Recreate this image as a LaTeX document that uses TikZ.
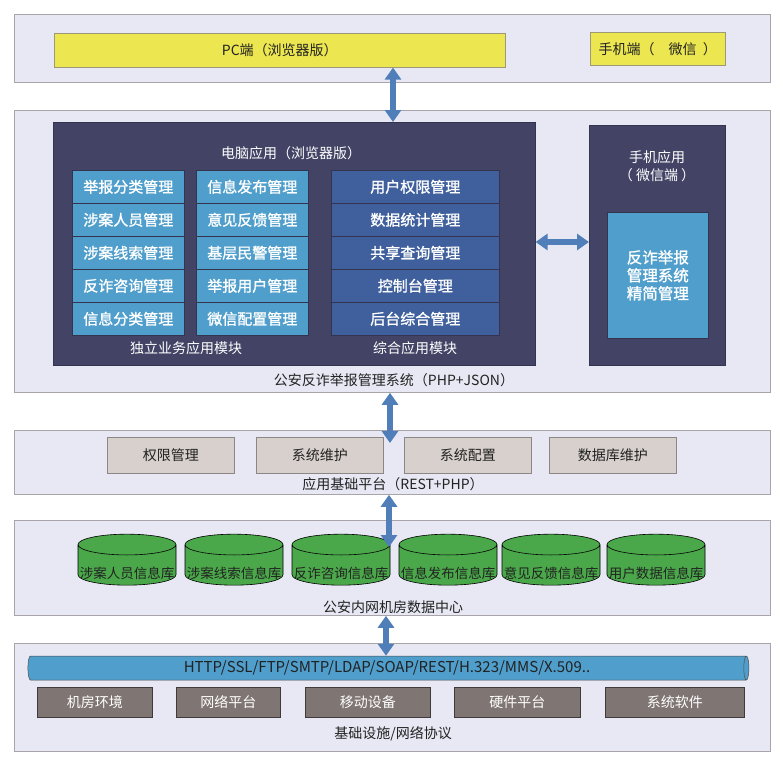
\documentclass[tikz,border=0pt]{standalone}
\usepackage{fontspec}
\setmainfont{Noto Sans CJK SC}
\newfontfamily\heavycjk[FakeBold=1.2]{Noto Sans CJK SC}
\usetikzlibrary{arrows.meta,shapes.geometric,positioning}

\definecolor{layerbg}{HTML}{E7E8F3}
\definecolor{layerln}{HTML}{A8A4A8}
\definecolor{pcyellow}{HTML}{ECE650}
\definecolor{yellowln}{HTML}{9C9878}
\definecolor{navy}{HTML}{434366}
\definecolor{navyln}{HTML}{34344F}
\definecolor{skyblue}{HTML}{4F9ECB}
\definecolor{deepblue}{HTML}{3F609C}
\definecolor{stone}{HTML}{D7D0CD}
\definecolor{stoneln}{HTML}{8C8684}
\definecolor{slate}{HTML}{7F7573}
\definecolor{slateln}{HTML}{403A3A}
\definecolor{dbgreen}{HTML}{4AA84A}
\definecolor{flowblue}{HTML}{4F7EB9}
\definecolor{ink}{HTML}{222222}

\begin{document}
\begin{tikzpicture}[
    x=1pt, y=-1pt,
    font=\fontsize{14}{16}\selectfont,
    layer/.style={draw=layerln, fill=layerbg, line width=0.8pt, anchor=north west, inner sep=0pt, minimum width=756pt},
    endbox/.style={draw=yellowln, fill=pcyellow, line width=0.6pt, anchor=north west, inner sep=0pt, minimum height=34pt, text=ink},
    panel/.style={draw=navyln, fill=navy, line width=0.6pt, anchor=north west, inner sep=0pt},
    paneltext/.style={text=white, inner sep=1pt, align=center, font=\fontsize{14}{18}\selectfont},
    cell/.style={draw=navyln, line width=0.6pt, anchor=north west, inner sep=0pt, minimum height=33pt, text=white, font=\heavycjk\fontsize{15}{17}\selectfont},
    core/.style={draw=navyln, fill=skyblue, line width=0.6pt, anchor=north west, inner sep=0pt, minimum width=101pt, minimum height=126pt, text=white, align=center, font=\heavycjk\fontsize{15.5}{18}\selectfont},
    title/.style={text=ink, inner sep=1pt},
    tool/.style={draw=stoneln, fill=stone, line width=0.6pt, anchor=north west, inner sep=0pt, minimum width=127pt, minimum height=36pt, text=ink},
    db/.style={cylinder, shape border rotate=90, aspect=0.22, draw=black, line width=0.6pt, cylinder uses custom fill, cylinder body fill=dbgreen, cylinder end fill=dbgreen, minimum width=98pt, minimum height=51pt, inner sep=0pt, font=\fontsize{13.5}{15}\selectfont},
    dbtext/.style={text=ink, inner sep=0pt, font=\fontsize{13.5}{15}\selectfont},
    pipe/.style={cylinder, aspect=0.35, draw=black!70, line width=0.5pt, cylinder uses custom fill, cylinder body fill=skyblue, cylinder end fill=skyblue, minimum width=24pt, minimum height=721pt, inner sep=0pt, text=ink, font=\fontsize{15}{17}\selectfont},
    infra/.style={draw=slateln, fill=slate, line width=0.8pt, anchor=north west, inner sep=0pt, minimum height=30pt, text=white},
    biarrow/.style={flowblue, line width=6pt, {Triangle[width=16pt,length=12pt]}-{Triangle[width=16pt,length=12pt]}},
  ]

  \useasboundingbox[fill=white] (0,0) rectangle (783,763);

  \def\rowh{33}   % altezza delle righe dei moduli

  % ---- 客户端 ---------------------------------------------------------------
  \node[layer, minimum height=68pt] (client) at (14,14) {};
  \node[endbox, minimum width=451pt] (pc) at (54,33) {PC端（浏览器版）};
  \node[endbox, minimum width=135pt, minimum height=33pt] (phone) at (590,32) {手机端（\quad 微信\ \ ）};

  % ---- 公安反诈举报管理系统 ---------------------------------------------------
  \node[layer, minimum height=282pt] (sys) at (14,110) {};
  \node[panel, minimum width=482pt, minimum height=243pt] (pcapp) at (53,122) {};
  \node[paneltext] (pctitle) at (291,153) {电脑应用（浏览器版）};

  \foreach \t [count=\k from 0] in {举报分类管理,涉案人员管理,涉案线索管理,反诈咨询管理,信息分类管理}
    \node[cell, fill=skyblue, minimum width=112pt] (ca\k) at (72,{170+\k*\rowh}) {\t};
  \foreach \t [count=\k from 0] in {信息发布管理,意见反馈管理,基层民警管理,举报用户管理,微信配置管理}
    \node[cell, fill=skyblue, minimum width=112pt] (cb\k) at (196,{170+\k*\rowh}) {\t};
  \foreach \t [count=\k from 0] in {用户权限管理,数据统计管理,共享查询管理,控制台管理,后台综合管理}
    \node[cell, fill=deepblue, minimum width=168pt] (cc\k) at (331,{170+\k*\rowh}) {\t};

  \node[paneltext] (bizlabel) at (186,348) {独立业务应用模块};
  \node[paneltext] (mixlabel) at (415,348) {综合应用模块};

  \node[panel, minimum width=136pt, minimum height=240pt] (mobapp) at (589,125) {};
  \node[paneltext] (mobtitle) at (657,166) {手机应用\\（ 微信端 ）};
  \node[core] (mobcore) at (607,212) {反诈举报\\管理系统\\精简管理};

  \node[title] (systitle) at (394,380) {公安反诈举报管理系统（PHP+JSON）};

  % ---- 应用基础平台 -----------------------------------------------------------
  \node[layer, minimum height=64pt] (base) at (14,430) {};
  \foreach \t/\px [count=\k] in {权限管理/107,系统维护/256,系统配置/404,数据库维护/549}
    \node[tool] (tool\k) at (\px,437) {\t};
  \node[title] (basetitle) at (393,484) {应用基础平台（REST+PHP）};

  % ---- 数据中心 ---------------------------------------------------------------
  \node[layer, minimum height=95pt] (dc) at (14,520) {};
  \foreach \t/\px [count=\k] in {涉案人员信息库/127,涉案线索信息库/234,反诈咨询信息库/341,信息发布信息库/448,意见反馈信息库/551,用户数据信息库/656}
  {
    \node[db] (db\k) at (\px,565) {\phantom{\t}};
    \node[dbtext] (dbname\k) at (\px,573) {\t};
  }
  \node[title] (dctitle) at (393,607) {公安内网机房数据中心};

  % ---- 基础设施 ---------------------------------------------------------------
  \node[layer, minimum height=108pt] (infra) at (14,643) {};
  \node[pipe] (pipe) at (387,668) {HTTP/SSL/FTP/SMTP/LDAP/SOAP/REST/H.323/MMS/X.509..};
  \foreach \t/\px/\pw [count=\k] in {机房环境/37/115,网络平台/176/104,移动设备/305/125,硬件平台/454/126,系统软件/605/139}
    \node[infra, minimum width=\pw pt] (hw\k) at (\px,687) {\t};
  \node[title] (infratitle) at (393,734) {基础设施/网络协议};

  % ---- frecce di collegamento -------------------------------------------------
  \coordinate (ax1) at (393,0);
  \coordinate (a2end) at (390,443);
  \coordinate (a3end) at (389,547);
  \coordinate (ax4) at (386,0);
  \draw[biarrow] (pc.south -| ax1) -- (pcapp.north -| ax1);
  \draw[biarrow] (pcapp.east |- 0,242) -- (mobapp.west |- 0,242);
  \draw[biarrow] (sys.south -| a2end) -- (a2end);
  \draw[biarrow] (base.south -| a3end) -- (a3end);
  \draw[biarrow] (dc.south -| ax4) -- (pipe.north -| ax4);

\end{tikzpicture}
\end{document}
